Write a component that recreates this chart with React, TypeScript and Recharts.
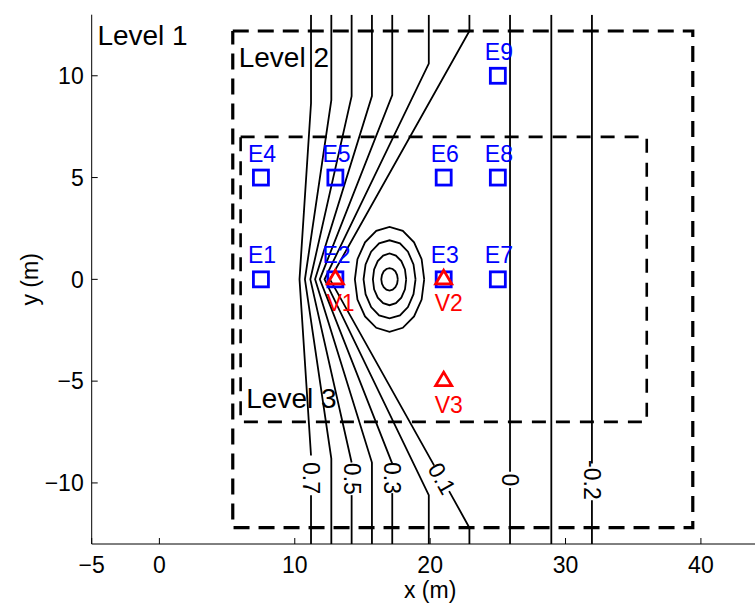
import React from 'react';
import { ScatterChart, Scatter, XAxis, YAxis } from 'recharts';

const FONT = '"Liberation Sans", Arial, Helvetica, sans-serif';

// axis ticks
const xTicks = [-5, 0, 10, 20, 30, 40];
const yTicks = [-10, -5, 0, 5, 10];

// contour lines (x, y in m); a/b = parts split by a label
const c07a = [[11.2, 13], [11.2, 8.65], [10.35, 0], [11.2, -8.65]];
const c07b = [[11.2, -10.6], [11.2, -13]];
const c06 = [[12.7, 13], [12.7, 8.8], [10.75, 0], [12.7, -8.8], [12.7, -13]];
const c05a = [[14.2, 13], [14.2, 9.0], [11.15, 0], [14.2, -9.0]];
const c05b = [[14.2, -10.6], [14.2, -13]];
const c04 = [[15.7, 13], [15.7, 9.0], [11.5, 0], [15.7, -9.0], [15.7, -13]];
const c03a = [[17.2, 13], [17.2, 9.05], [11.85, 0], [17.2, -9.05]];
const c03b = [[17.2, -10.5], [17.2, -13]];
const c02 = [[19.9, 13], [19.9, 10.6], [12.2, 0], [19.9, -10.6], [19.9, -13]];
const c01a = [[22.9, 13], [22.9, 12.2], [12.6, 0], [20.3, -9.15]];
const c01b = [[21.4, -10.4], [22.9, -12.2], [22.9, -13]];
const c00a = [[25.9, 13], [25.9, -9.45]];
const c00b = [[25.9, -10.25], [25.9, -13]];
const cm01 = [[28.95, 13], [28.95, -13]];
const cm02a = [[31.95, 13], [31.95, -9.05]];
const cm02b = [[31.95, -10.85], [31.95, -13]];

// closed contours round the peak at (17, 0)
const ring1 = [[17.61, 0], [17.56, 0.21], [17.43, 0.39], [17.23, 0.51], [17, 0.55], [16.77, 0.51], [16.57, 0.39], [16.44, 0.21], [16.39, 0], [16.44, -0.21], [16.57, -0.39], [16.77, -0.51], [17, -0.55], [17.23, -0.51], [17.43, -0.39], [17.56, -0.21], [17.61, 0]];
const ring2 = [[18.23, 0], [18.14, 0.49], [17.87, 0.9], [17.47, 1.17], [17, 1.27], [16.53, 1.17], [16.13, 0.9], [15.86, 0.49], [15.77, 0], [15.86, -0.49], [16.13, -0.9], [16.53, -1.17], [17, -1.27], [17.47, -1.17], [17.87, -0.9], [18.14, -0.49], [18.23, 0]];
const ring3 = [[18.92, 0], [18.77, 0.73], [18.36, 1.36], [17.77, 1.77], [17, 1.92], [16.23, 1.77], [15.64, 1.36], [15.23, 0.73], [15.08, 0], [15.23, -0.73], [15.64, -1.36], [16.23, -1.77], [17, -1.92], [17.77, -1.77], [18.36, -1.36], [18.77, -0.73], [18.92, 0]];
const ring4 = [[19.56, 0], [19.37, 0.99], [18.81, 1.82], [17.98, 2.38], [17, 2.58], [16.02, 2.38], [15.19, 1.82], [14.63, 0.99], [14.44, 0], [14.63, -0.99], [15.19, -1.82], [16.02, -2.38], [17, -2.58], [17.98, -2.38], [18.81, -1.82], [19.37, -0.99], [19.56, 0]];

// dashed level boxes
const level2Box = [[5.42, 12.2], [39.4, 12.2], [39.4, -12.2], [5.42, -12.2], [5.42, 12.2]];
const level3Box = [[6, 7], [36, 7], [36, -7], [6, -7], [6, 7]];

const levelLabels = [
  { x: -4.58, y: 11.5, text: 'Level 1' },
  { x: 5.86, y: 10.45, text: 'Level 2' },
  { x: 6.42, y: -6.34, text: 'Level 3' },
];

const contourLabels = [
  { x: 11.2, y: -9.76, text: '0.7', angle: 90 },
  { x: 14.2, y: -9.8, text: '0.5', angle: 90 },
  { x: 17.2, y: -9.76, text: '0.3', angle: 90 },
  { x: 20.86, y: -9.78, text: '0.1', angle: 60.7 },
  { x: 25.9, y: -9.85, text: '0', angle: 90 },
  { x: 31.95, y: -9.85, text: '-0.2', angle: 90 },
];

const electrodes = [
  { x: 7.5, y: 0, name: 'E1' },
  { x: 13, y: 0, name: 'E2' },
  { x: 21, y: 0, name: 'E3' },
  { x: 7.5, y: 5, name: 'E4' },
  { x: 13, y: 5, name: 'E5' },
  { x: 21, y: 5, name: 'E6' },
  { x: 25, y: 0, name: 'E7' },
  { x: 25, y: 5, name: 'E8' },
  { x: 25, y: 10, name: 'E9' },
];

const vents = [
  { x: 13, y: 0, name: 'V1' },
  { x: 21, y: 0, name: 'V2' },
  { x: 21, y: -5, name: 'V3' },
];

const pts = (a: number[][]) => a.map(([x, y]) => ({ x, y }));
const fmt = (v: number) => (v < 0 ? '\u2212' + Math.abs(v) : String(v));

const noDot = () => <g />;

const XTick = ({ x, y, payload }: any) => (
  <g>
    <line x1={x} x2={x} y1={y} y2={y - 6} stroke="#000" strokeWidth={1} />
    <text x={x} y={y + 29} textAnchor="middle" fontSize={23} fontFamily={FONT} fill="#000">
      {fmt(payload.value)}
    </text>
  </g>
);

const TopTick = ({ x, y }: any) => <line x1={x} x2={x} y1={y} y2={y + 6} stroke="#000" strokeWidth={1} />;

const YTick = ({ x, y, payload }: any) => (
  <g>
    <line x1={x} x2={x + 6} y1={y} y2={y} stroke="#000" strokeWidth={1} />
    <text x={x - 8} y={y + 8.3} textAnchor="end" fontSize={23} fontFamily={FONT} fill="#000">
      {fmt(payload.value)}
    </text>
  </g>
);

const ElectrodeShape = ({ cx, cy, payload }: any) => (
  <g>
    <rect x={cx - 7.5} y={cy - 7.5} width={15} height={15} fill="none" stroke="#0000ff" strokeWidth={2.8} />
    <text x={cx - 13} y={cy - 16} fontSize={23} fontFamily={FONT} fill="#0000ff">{payload.name}</text>
  </g>
);

const VentShape = ({ cx, cy, payload }: any) => (
  <g>
    <path d={`M${cx},${cy - 9}L${cx + 8},${cy + 4.5}L${cx - 8},${cy + 4.5}Z`} fill="none" stroke="#ff0000" strokeWidth={2.8} strokeLinejoin="miter" />
    <text x={cx - 9} y={cy + 32} fontSize={23} fontFamily={FONT} fill="#ff0000">{payload.name}</text>
  </g>
);

const LevelText = ({ cx, cy, payload }: any) => (
  <text x={cx} y={cy} fontSize={28} fontFamily={FONT} fill="#000">{payload.text}</text>
);

const ContourText = ({ cx, cy, payload }: any) => (
  <text
    x={cx}
    y={cy}
    transform={`rotate(${payload.angle}, ${cx}, ${cy})`}
    textAnchor="middle"
    dominantBaseline="central"
    fontSize={23}
    fontFamily={FONT}
    fill="#000"
  >
    {payload.text}
  </text>
);

const contourSegments = [c07a, c07b, c06, c05a, c05b, c04, c03a, c03b, c02, c01a, c01b, c00a, c00b, cm01, cm02a, cm02b, ring1, ring2, ring3, ring4];

export default function App() {
  return (
    <div style={{ width: 747, height: 597, overflow: 'hidden' }}>
      <style>{'body{margin:8px 0 0 8px}'}</style>
      <ScatterChart width={780} height={597} margin={{ top: 6.7, right: 19.4, bottom: 0, left: 0 }}>
        <XAxis
          type="number"
          dataKey="x"
          domain={[-5, 45]}
          ticks={xTicks}
          interval={0}
          allowDataOverflow
          height={61}
          tickSize={0}
          tickMargin={0}
          tickLine={false}
          tick={<XTick />}
          axisLine={{ stroke: '#000', strokeWidth: 1 }}
          label={{
            content: ({ viewBox }: any) => (
              <text x={viewBox.x + viewBox.width / 2} y={viewBox.y + 54} textAnchor="middle" fontSize={23} fontFamily={FONT} fill="#000">
                x (m)
              </text>
            ),
          }}
        />
        <XAxis
          xAxisId="top"
          orientation="top"
          type="number"
          dataKey="x"
          domain={[-5, 45]}
          ticks={xTicks}
          interval={0}
          allowDataOverflow
          height={0}
          tickSize={0}
          tickMargin={0}
          tickLine={false}
          tick={<TopTick />}
          axisLine={{ stroke: '#000', strokeWidth: 1 }}
        />
        <YAxis
          type="number"
          dataKey="y"
          domain={[-13, 13]}
          ticks={yTicks}
          interval={0}
          allowDataOverflow
          width={83.7}
          tickSize={0}
          tickMargin={0}
          tickLine={false}
          tick={<YTick />}
          axisLine={{ stroke: '#000', strokeWidth: 1 }}
          label={{
            content: ({ viewBox }: any) => (
              <text
                transform={`translate(30, ${viewBox.y + viewBox.height / 2}) rotate(-90)`}
                textAnchor="middle"
                fontSize={23}
                fontFamily={FONT}
                fill="#000"
              >
                y (m)
              </text>
            ),
          }}
        />
        {contourSegments.map((seg, i) => (
          <Scatter
            key={'c' + i}
            data={pts(seg)}
            fill="#000"
            line={{ stroke: '#000', strokeWidth: 1.8 }}
            shape={noDot}
            isAnimationActive={false}
          />
        ))}
        <Scatter
          data={pts(level2Box)}
          fill="#000"
          line={{ stroke: '#000', strokeWidth: 3.2, strokeDasharray: '16 9' }}
          shape={noDot}
          isAnimationActive={false}
        />
        <Scatter
          data={pts(level3Box)}
          fill="#000"
          line={{ stroke: '#000', strokeWidth: 2.6, strokeDasharray: '14 10' }}
          shape={noDot}
          isAnimationActive={false}
        />
        <Scatter data={contourLabels} shape={<ContourText />} isAnimationActive={false} />
        <Scatter data={levelLabels} shape={<LevelText />} isAnimationActive={false} />
        <Scatter data={electrodes} shape={<ElectrodeShape />} isAnimationActive={false} />
        <Scatter data={vents} shape={<VentShape />} isAnimationActive={false} />
      </ScatterChart>
    </div>
  );
}
